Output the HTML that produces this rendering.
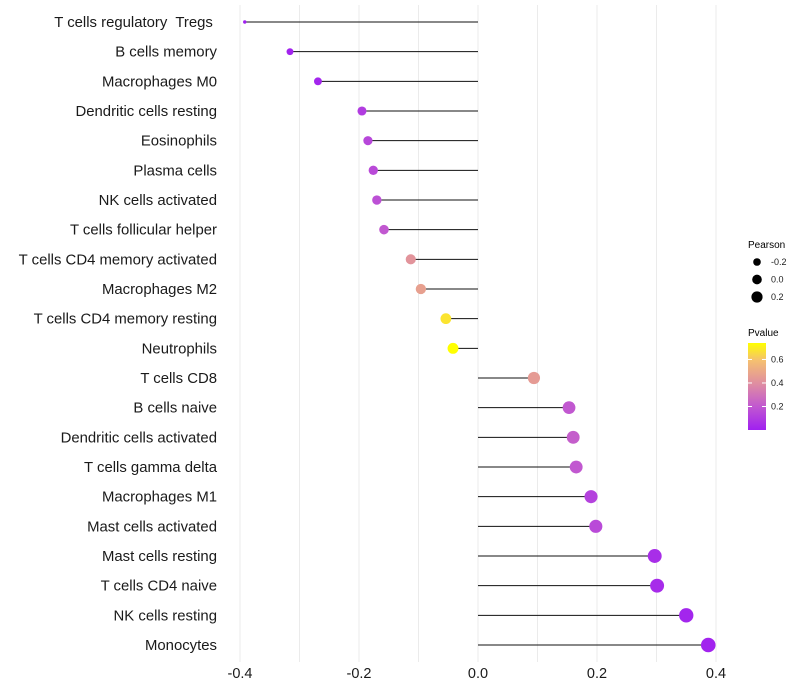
<!DOCTYPE html>
<html><head><meta charset="utf-8"><style>
body{margin:0;background:#fff;}
svg{display:block;font-family:"Liberation Sans",sans-serif;}
#ylabels text{white-space:pre;}
</style></head><body>
<svg id="chart" width="800" height="700">
<g id="grid"></g>
<g id="marks"></g>
<g id="ylabels"></g>
<g id="xlabels"></g>
<g>
<text x="748" y="248" font-size="10" fill="#000">Pearson</text>
<g id="sizeLegend"></g>
</g>
<g>
<defs><linearGradient id="pg" x1="0" y1="1" x2="0" y2="0">
<stop offset="0" stop-color="#a020f0"/><stop offset="0.27" stop-color="#c158d0"/><stop offset="0.54" stop-color="#e08fa0"/><stop offset="0.8" stop-color="#f5c070"/><stop offset="1" stop-color="#ffff00"/></linearGradient></defs>
<text x="748" y="336" font-size="10" fill="#000">Pvalue</text>
<rect x="748" y="343" width="18" height="87" fill="url(#pg)"/>
<g id="colorTicks"></g>
</g>
</svg>
<script>
const categories=["T cells regulatory  Tregs ","B cells memory","Macrophages M0","Dendritic cells resting","Eosinophils","Plasma cells","NK cells activated","T cells follicular helper","T cells CD4 memory activated","Macrophages M2","T cells CD4 memory resting","Neutrophils","T cells CD8","B cells naive","Dendritic cells activated","T cells gamma delta","Macrophages M1","Mast cells activated","Mast cells resting","T cells CD4 naive","NK cells resting","Monocytes"];
const pearson=[-0.392,-0.316,-0.269,-0.195,-0.185,-0.176,-0.170,-0.158,-0.113,-0.096,-0.054,-0.042,0.094,0.153,0.160,0.165,0.190,0.198,0.297,0.301,0.350,0.387];
const pvalues=[0.0,0.01,0.02,0.10,0.14,0.15,0.17,0.20,0.42,0.47,0.68,0.74,0.45,0.20,0.22,0.20,0.12,0.15,0.05,0.04,0.02,0.01];
const xTicks=[-0.4,-0.2,0.0,0.2,0.4];
const xTickLabels=["-0.4","-0.2","0.0","0.2","0.4"];
const sizeLegendVals=[-0.2,0.0,0.2];
const colorLegendVals=[0.2,0.4,0.6];

const NS="http://www.w3.org/2000/svg";
const x=v=>478+v*595;
const y=i=>22+i*29.667;
const pmin=Math.min(...pearson), pmax=Math.max(...pearson);
const r=v=>1.7+5.6*Math.sqrt(Math.max(0,v-pmin)/(pmax-pmin));
const stops=[[0,[160,32,240]],[0.2,[193,88,208]],[0.4,[224,143,160]],[0.6,[245,192,112]],[0.74,[255,255,0]]];
function col(p){
  for(let k=1;k<stops.length;k++){if(p<=stops[k][0]||k==stops.length-1){const a=stops[k-1],b=stops[k];let t=(p-a[0])/(b[0]-a[0]);t=Math.max(0,Math.min(1,t));return "rgb("+a[1].map((c,j)=>Math.round(c+(b[1][j]-c)*t)).join(",")+")";}}
}
const cy=v=>430-v/0.74*87;
function mk(tag,attrs,parent,txt){const e=document.createElementNS(NS,tag);for(const k in attrs)e.setAttribute(k,attrs[k]);if(txt!==undefined)e.textContent=txt;document.getElementById(parent).appendChild(e);return e;}
for(let v=-0.4;v<=0.401;v+=0.1){
  const g=mk("line",{x1:x(v),x2:x(v),y1:5,y2:662,stroke:"#ebebeb","stroke-width":1},"grid");
  
  
}
categories.forEach((c,i)=>{
  const ln=mk("line",{x1:x(0),x2:x(pearson[i]),y1:y(i),y2:y(i),stroke:"#111","stroke-width":1},"marks");
  
  
  const d=mk("circle",{cx:x(pearson[i]),cy:y(i),r:r(pearson[i]),fill:col(pvalues[i])},"marks");
  
  
  const t=mk("text",{x:217,y:y(i)+5,"text-anchor":"end","font-size":14.9,fill:"#1a1a1a","xml:space":"preserve"},"ylabels",c);
  
  
});
xTicks.forEach((v,i)=>{
  const t=mk("text",{x:x(v),y:678,"text-anchor":"middle","font-size":14.5,fill:"#1a1a1a"},"xlabels",xTickLabels[i]);
  
  
});
sizeLegendVals.forEach((v,i)=>{
  const c=mk("circle",{cx:757,cy:262+i*17.5,r:r(v)*0.85,fill:"#000"},"sizeLegend");
  
  
  const t=mk("text",{x:771,y:265+i*17.5,"font-size":9,fill:"#1a1a1a"},"sizeLegend",v.toFixed(1));
  
  
});
colorLegendVals.forEach(v=>{
  const l=mk("line",{x1:748,x2:752,y1:cy(v),y2:cy(v),stroke:"#fff"},"colorTicks");
  
  
  const l2=mk("line",{x1:762,x2:766,y1:cy(v),y2:cy(v),stroke:"#fff"},"colorTicks");
  
  
  const t=mk("text",{x:771,y:cy(v)+3,"font-size":9,fill:"#1a1a1a"},"colorTicks",v.toFixed(1));
  
  
});
</script>
</body></html>
